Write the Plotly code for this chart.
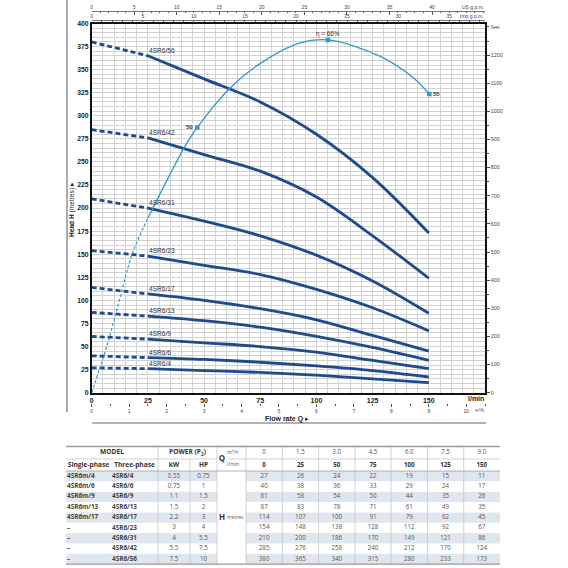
import plotly.graph_objects as go

# ---------------- data ----------------
q_lmin = [0, 25, 50, 75, 100, 125, 150]
q_m3h = ["0", "1.5", "3.0", "4.5", "6.0", "7.5", "9.0"]

model_single = ["4SR6m/4", "4SR6m/6", "4SR6m/9", "4SR6m/13", "4SR6m/17", "–", "–", "–", "–"]
model_three = ["4SR6/4", "4SR6/6", "4SR6/9", "4SR6/13", "4SR6/17", "4SR6/23", "4SR6/31", "4SR6/42", "4SR6/56"]
power_kw = ["0.55", "0.75", "1.1", "1.5", "2.2", "3", "4", "5.5", "7.5"]
power_hp = ["0.75", "1", "1.5", "2", "3", "4", "5.5", "7.5", "10"]

h_4 = [27, 26, 24, 22, 19, 15, 11]
h_6 = [40, 38, 36, 33, 29, 24, 17]
h_9 = [61, 58, 54, 50, 44, 35, 26]
h_13 = [87, 83, 78, 71, 61, 49, 35]
h_17 = [114, 107, 100, 91, 79, 62, 45]
h_23 = [154, 148, 138, 128, 112, 92, 67]
h_31 = [210, 200, 186, 170, 149, 121, 86]
h_42 = [285, 276, 258, 240, 212, 170, 124]
h_56 = [380, 365, 340, 315, 280, 233, 173]
heads = [h_4, h_6, h_9, h_13, h_17, h_23, h_31, h_42, h_56]

# efficiency curve as read in head-axis units (l/min, m)
eff_q_dash = [0, 3.4, 6.7, 12.3, 18.1, 25]
eff_h_dash = [0, 25, 50, 100, 151, 189]
eff_q = [25, 41.5, 47, 61.6, 76.4, 92.7, 105.1, 128.4, 143.2, 150.2]
eff_h = [189, 266.8, 287.4, 330.2, 359, 379, 382.2, 364.4, 341, 323.6]
eff_pts_q = [47, 105.1, 150.2]
eff_pts_h = [287.4, 382.2, 323.6]
eff_pts_lbl = ["50", "η = 66%", "55"]

head_ticks = list(range(0, 401, 25))
flow_ticks = [0, 25, 50, 75, 100, 125, 150]
feet_ticks = list(range(0, 1201, 100))
usgpm_ticks = list(range(0, 41, 5))
impgpm_ticks = list(range(0, 36, 5))
m3h_ticks = list(range(0, 11))

L_PER_USGAL = 3.78541
L_PER_IMPGAL = 4.54609
L_PER_M3H = 1000 / 60
FT_PER_M = 3.28084

# ---------------- layout constants ----------------
W = H = 568
QMAX, HMAX = 175, 400
PX_L, PX_R, PX_T, PX_B = 91.7, 485, 23.5, 392.7
def px(x): return x / W
def py(y): return 1 - y / H

NAVY = "#1d4b8c"
LBLUE = "#3399cc"
GRID = "#d2d2d2"
FONT = "Liberation Sans Narrow, Arial Narrow, Liberation Sans, sans-serif"
TFONT = "Open Sans, Noto Sans, sans-serif"

fig = go.Figure()

# head curves
for i, hv in enumerate(heads):
    fig.add_trace(go.Scatter(x=q_lmin[:2], y=hv[:2], mode="lines",
                             line=dict(color=NAVY, width=2.8, dash="5px,3px"),
                             hoverinfo="skip", showlegend=False))
    fig.add_trace(go.Scatter(x=q_lmin[1:], y=hv[1:], mode="lines",
                             line=dict(color=NAVY, width=2.8, shape="spline"),
                             hoverinfo="skip", showlegend=False))

# efficiency curve
fig.add_trace(go.Scatter(x=eff_q_dash, y=eff_h_dash, mode="lines",
                         line=dict(color=LBLUE, width=1.2, dash="3px,2px", shape="spline"),
                         hoverinfo="skip", showlegend=False))
fig.add_trace(go.Scatter(x=eff_q, y=eff_h, mode="lines",
                         line=dict(color=LBLUE, width=1.3, shape="spline"),
                         hoverinfo="skip", showlegend=False))
fig.add_trace(go.Scatter(x=eff_pts_q, y=eff_pts_h, mode="markers",
                         marker=dict(color=LBLUE, size=4.5, symbol="square"),
                         hoverinfo="skip", showlegend=False))

# invisible traces to activate the secondary scales
for xa, ya in [("x2", "y6"), ("x3", "y7"), ("x4", "y8"), ("x", "y2")]:
    fig.add_trace(go.Scatter(x=[0], y=[0], xaxis=xa, yaxis=ya, mode="markers",
                             marker=dict(opacity=0, size=1), hoverinfo="skip", showlegend=False))

# top-scale labels placed through the gallon axes
for xa, ya, vals in [("x2", "y9", usgpm_ticks), ("x3", "y10", impgpm_ticks)]:
    fig.add_trace(go.Scatter(x=vals, y=[0.5] * len(vals), xaxis=xa, yaxis=ya, mode="text",
                             text=[str(v) for v in vals], textposition="middle center",
                             cliponaxis=False, hoverinfo="skip", showlegend=False,
                             textfont=dict(family=FONT, size=5, color="#444")))

ann = []
# curve labels
for name, hv in zip(model_three, heads):
    ann.append(dict(x=q_lmin[1], y=hv[1], xref="x", yref="y", text=name, showarrow=False,
                    xanchor="left", yanchor="bottom", xshift=-1,
                    font=dict(family=FONT, size=6.6, color="#333")))
# efficiency labels
ann.append(dict(x=eff_pts_q[0], y=eff_pts_h[0], xref="x", yref="y", text=eff_pts_lbl[0], showarrow=False,
                xanchor="right", yanchor="middle", xshift=-2,
                font=dict(family=FONT, size=6, color="#333", weight="bold")))
ann.append(dict(x=eff_pts_q[1], y=eff_pts_h[1], xref="x", yref="y", text=eff_pts_lbl[1], showarrow=False,
                xanchor="center", yanchor="bottom", yshift=0,
                font=dict(family=FONT, size=6.3, color="#333")))
ann.append(dict(x=eff_pts_q[2], y=eff_pts_h[2], xref="x", yref="y", text=eff_pts_lbl[2], showarrow=False,
                xanchor="left", yanchor="middle", xshift=2,
                font=dict(family=FONT, size=6, color="#333", weight="bold")))

def pann(x, y, text, size=7, xanchor="center", color="#333", weight="normal", angle=0):
    ann.append(dict(x=px(x), y=py(y), xref="paper", yref="paper", text=text, showarrow=False,
                    xanchor=xanchor, yanchor="middle", textangle=angle,
                    font=dict(family=FONT, size=size, color=color, weight=weight)))

pann(486, 7, "US g.p.m.", 5, "right", "#444")
pann(486, 16.5, "Imp g.p.m.", 5, "right", "#444")
pann(489, 27, "feet", 5, "left", "#444")
pann(486, 398, "l/min", 7, "right", "#222", "bold")
pann(486, 410.5, "m³/h", 4.5, "right", "#444")
pann(287, 418.5, "<b>Flow rate Q</b> ▸", 7, "center", "#222")
pann(72, 210, "<b>Head H</b> (metres) ▸", 6.6, "center", "#222", angle=-90)

shapes = [
    dict(type="line", xref="paper", yref="paper", x0=px(67), x1=px(67), y0=py(0), y1=py(412),
         line=dict(color="#555", width=1)),
    dict(type="line", xref="paper", yref="paper", x0=px(92), x1=px(486), y0=py(423), y1=py(423),
         line=dict(color="#999", width=1.3)),
]

# ---------------- table (pixel-unit axes x5/y5) ----------------
TL, TR = 66, 500
C_SINGLE, C_THREE, C_KW, C_HP, C_QH, C_VAL = 66, 111, 158, 190, 217, 246
VAL_W = (TR - C_VAL) / 7
val_edges = [C_VAL + i * VAL_W for i in range(8)]
val_cent = [C_VAL + (i + 0.5) * VAL_W for i in range(7)]
HD1, HD2, ROW0, ROW_H = 446.5, 459, 471, 10.35
TB = ROW0 + 9 * ROW_H
row_cent = [ROW0 + (i + 0.5) * ROW_H for i in range(9)]

for i in range(0, 9, 2):
    for x0, x1 in [(TL, C_QH), (C_VAL, TR)]:
        shapes.append(dict(type="rect", xref="x5", yref="y5", x0=x0, x1=x1,
                           y0=ROW0 + i * ROW_H, y1=ROW0 + (i + 1) * ROW_H,
                           fillcolor="#dfe6ed", line=dict(width=0), layer="below"))
for x in [C_KW, C_QH, C_VAL] + val_edges[1:-1]:
    shapes.append(dict(type="line", xref="x5", yref="y5", x0=x, x1=x, y0=HD1, y1=TB,
                       line=dict(color="#c6c6c6", width=0.8)))
shapes.append(dict(type="line", xref="x5", yref="y5", x0=C_HP, x1=C_HP, y0=HD2, y1=TB,
                   line=dict(color="#c6c6c6", width=0.8)))
for y, x0, x1, c, w in [(HD1, TL, TR, "#9a9a9a", 1.3), (HD2, TL, C_QH, "#c6c6c6", 0.8),
                        (HD2, 229, TR, "#c6c6c6", 0.8), (ROW0, TL, TR, "#a8a8a8", 0.9),
                        (TB, TL, TR, "#9a9a9a", 1.3)]:
    shapes.append(dict(type="line", xref="x5", yref="y5", x0=x0, x1=x1, y0=y, y1=y,
                       line=dict(color=c, width=w)))

def ttext(xs, ys, texts, size=6.5, color="#555", weight="normal", pos="middle center"):
    fig.add_trace(go.Scatter(x=xs, y=ys, text=texts, mode="text", xaxis="x5", yaxis="y5",
                             textposition=pos, hoverinfo="skip", showlegend=False,
                             textfont=dict(family=TFONT, size=size, color=color, weight=weight)))

yh1 = (HD1 + HD2) / 2
yh2 = (HD2 + ROW0) / 2
ttext([(C_SINGLE + C_KW) / 2, (C_KW + C_QH) / 2], [yh1, yh1], ["MODEL", "POWER (P<sub>2</sub>)"],
      6.6, "#333", "bold")
ttext([(C_SINGLE + C_THREE) / 2, (C_THREE + C_KW) / 2, (C_KW + C_HP) / 2, (C_HP + C_QH) / 2],
      [yh2] * 4, ["Single-phase", "Three-phase", "kW", "HP"], 6.6, "#333", "bold")
ttext([222], [HD2], ["Q"], 8, "#333", "bold")
ttext([227, 227], [yh1, yh2], ["m³/h", "l/min"], 5, "#555", "normal", "middle right")
ttext([222], [row_cent[4]], ["H"], 8, "#333", "bold")
ttext([227], [row_cent[4] + 0.5], ["metres"], 5, "#555", "normal", "middle right")
ttext(val_cent, [yh1] * 7, q_m3h, 6.2, "#555")
ttext(val_cent, [yh2] * 7, [str(q) for q in q_lmin], 6.2, "#333", "bold")
ttext([C_SINGLE + 1] * 9, row_cent, model_single, 6.4, "#444", "bold", "middle right")
ttext([C_THREE + 1] * 9, row_cent, model_three, 6.4, "#444", "bold", "middle right")
ttext([(C_KW + C_HP) / 2] * 9, row_cent, power_kw, 6.3, "#555")
ttext([(C_HP + C_QH) / 2] * 9, row_cent, power_hp, 6.3, "#555")
for j in range(7):
    ttext([val_cent[j]] * 9, row_cent, [str(hv[j]) for hv in heads], 6.2, "#555")

# ---------------- axes ----------------
dom_x = [px(PX_L), px(PX_R)]
dom_y = [py(PX_B), py(PX_T)]

def strip_y(y_px):
    return dict(domain=[py(y_px + 0.5), py(y_px - 0.5)], range=[0, 1], visible=False,
                fixedrange=True, automargin=False)

def flow_axis(anchor, side, rng, tickvals, minor_dtick, ticks, showline, labels):
    return dict(anchor=anchor, side=side, domain=dom_x, range=rng, automargin=False,
                tickmode="array", tickvals=tickvals, ticks=ticks, ticklen=3, tickcolor="#555",
                minor=dict(dtick=minor_dtick, tick0=0, ticks=ticks, ticklen=1.5, tickcolor="#555"),
                showgrid=False, zeroline=False, showline=showline, linecolor="#777", linewidth=0.8,
                showticklabels=labels,
                tickfont=dict(family=FONT, size=5, color="#444"), fixedrange=True)

fig.update_layout(
    template="none",
    width=W, height=H, margin=dict(l=0, r=0, t=0, b=0, pad=0),
    paper_bgcolor="white", plot_bgcolor="white", showlegend=False,
    annotations=ann, shapes=shapes,
    xaxis=dict(domain=dom_x, range=[0, QMAX], tickmode="array", tickvals=flow_ticks, automargin=False,
               showgrid=True, gridcolor=GRID, gridwidth=0.6, zeroline=False,
               minor=dict(dtick=5, tick0=0, showgrid=True, gridcolor=GRID, gridwidth=0.6),
               showline=True, linecolor="#111", linewidth=1.5, mirror=True, ticks="",
               tickfont=dict(family=FONT, size=7, color="#222", weight="bold"), anchor="y"),
    yaxis=dict(domain=dom_y, range=[0, HMAX], tickmode="array", tickvals=head_ticks, automargin=False,
               showgrid=True, gridcolor=GRID, gridwidth=0.6, zeroline=False,
               minor=dict(dtick=5, tick0=0, showgrid=True, gridcolor=GRID, gridwidth=0.6),
               showline=True, linecolor="#111", linewidth=1.5, mirror=True, ticks="",
               tickfont=dict(family=FONT, size=6.8, color="#222", weight="bold"), anchor="x"),
    yaxis2=dict(overlaying="y", side="right", anchor="x", range=[0, HMAX * FT_PER_M], automargin=False,
                tickmode="array", tickvals=feet_ticks, ticks="outside", ticklen=3, tickcolor="#444",
                minor=dict(dtick=50, ticks="outside", ticklen=2, tickcolor="#444"),
                showgrid=False, zeroline=False, showline=True, linecolor="#111", linewidth=1.5,
                tickfont=dict(family=FONT, size=5.3, color="#444")),
    xaxis2=flow_axis("y6", "top", [0, QMAX / L_PER_USGAL], usgpm_ticks, 1, "inside", True, False),
    yaxis6=dict(domain=[py(12.5), py(12)], range=[0, 1], visible=False, fixedrange=True, automargin=False),
    xaxis3=flow_axis("y7", "top", [0, QMAX / L_PER_IMPGAL], impgpm_ticks, 1, "inside", True, False),
    yaxis7=dict(domain=[py(21), py(20.5)], range=[0, 1], visible=False, fixedrange=True, automargin=False),
    yaxis9=strip_y(7.5),
    yaxis10=strip_y(16.8),
    xaxis4=flow_axis("y8", "bottom", [0, QMAX / L_PER_M3H], m3h_ticks, 0.5, "outside", False, True),
    yaxis8=dict(domain=[py(403), py(402.5)], range=[0, 1], visible=False, fixedrange=True, automargin=False),
    xaxis5=dict(domain=[0, 1], range=[0, W], visible=False, anchor="y5", fixedrange=True, automargin=False),
    yaxis5=dict(domain=[0, 128 / H], range=[H, 440], visible=False, anchor="x5", fixedrange=True,
                automargin=False),
)

fig.write_html("out.html", config={"displayModeBar": False},
               post_script="document.body.style.margin='0';document.body.style.padding='0';")
